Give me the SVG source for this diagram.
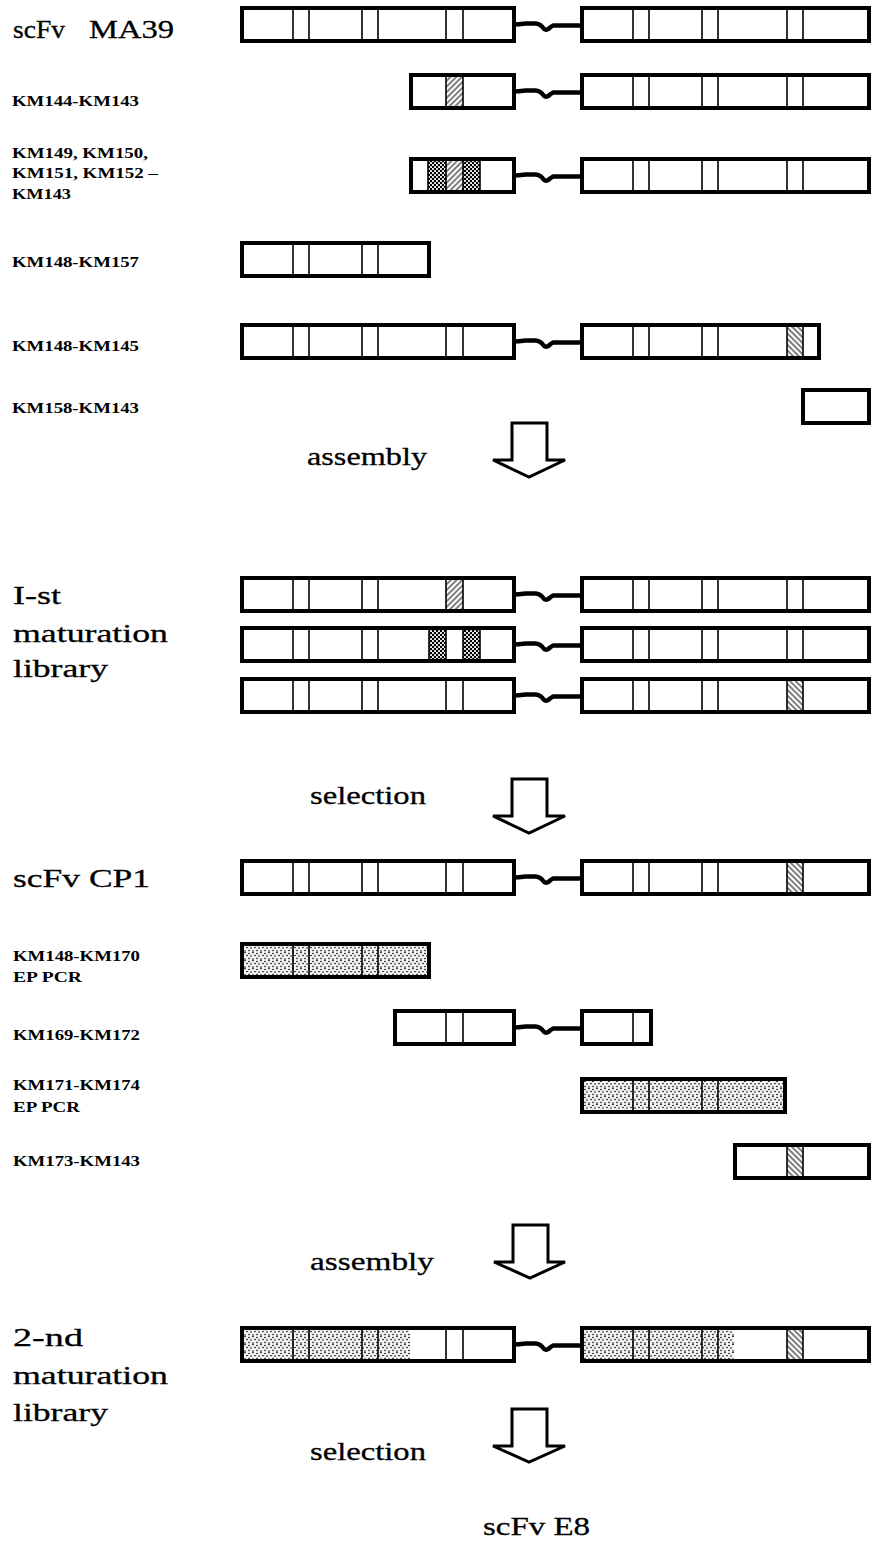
<svg xmlns="http://www.w3.org/2000/svg" width="878" height="1543" viewBox="0 0 878 1543">
<defs>
<style>
.box{fill:none;stroke:#000;stroke-width:4}
.dv{fill:none;stroke:#000;stroke-width:1.6}
.lbl{font-family:"Liberation Serif",serif;font-weight:bold;font-size:15px;fill:#000}
.big{font-family:"Liberation Serif",serif;font-size:26px;fill:#000;stroke:#000;stroke-width:0.3}
.arr{fill:#fff;stroke:#000;stroke-width:3;stroke-linejoin:miter}
.hf{fill:url(#hatchF)}
.hb{fill:url(#hatchB)}
.ck{fill:url(#check)}
.dt{fill:url(#dots)}
</style>
<pattern id="hatchF" patternUnits="userSpaceOnUse" width="4" height="4" patternTransform="rotate(45)">
<rect width="4" height="4" fill="#fff"/><line x1="1" y1="0" x2="1" y2="4" stroke="#000" stroke-width="1"/>
</pattern>
<pattern id="hatchB" patternUnits="userSpaceOnUse" width="4" height="4" patternTransform="rotate(-45)">
<rect width="4" height="4" fill="#fff"/><line x1="1" y1="0" x2="1" y2="4" stroke="#000" stroke-width="1"/>
</pattern>
<pattern id="check" patternUnits="userSpaceOnUse" width="4" height="4">
<rect width="4" height="4" fill="#000"/><circle cx="1" cy="1" r="1.05" fill="#fff"/><circle cx="3" cy="3" r="1.05" fill="#fff"/>
</pattern>
<pattern id="dots" patternUnits="userSpaceOnUse" width="8" height="8">
<rect width="8" height="8" fill="#f4f4f4"/>
<circle cx="1" cy="1.5" r="0.8" fill="#000"/><circle cx="5" cy="0.5" r="0.8" fill="#000"/>
<circle cx="3" cy="4" r="0.8" fill="#000"/><circle cx="7" cy="3.5" r="0.8" fill="#000"/>
<circle cx="1" cy="6.5" r="0.8" fill="#000"/><circle cx="5" cy="7" r="0.8" fill="#000"/>
</pattern>
<path id="lk" fill="none" stroke="#000" stroke-width="4.5" stroke-linejoin="round" d="M0,0 L10,-1 L19,-1 Q23,-1 26,2 Q30,8 34,3 L37,1 L47,1 L64,1"/>
</defs>
<rect width="878" height="1543" fill="#fff"/>

<g id="labels">
<text class="big" x="13" y="38"><tspan textLength="52" lengthAdjust="spacingAndGlyphs">scFv</tspan> <tspan x="89" textLength="85" lengthAdjust="spacingAndGlyphs">MA39</tspan></text>
<text class="lbl" x="12" y="106" textLength="127" lengthAdjust="spacingAndGlyphs">KM144-KM143</text>
<text class="lbl" x="12" y="158" textLength="136" lengthAdjust="spacingAndGlyphs">KM149, KM150,</text>
<text class="lbl" x="12" y="178" textLength="146" lengthAdjust="spacingAndGlyphs">KM151, KM152 –</text>
<text class="lbl" x="12" y="199" textLength="59" lengthAdjust="spacingAndGlyphs">KM143</text>
<text class="lbl" x="12" y="267" textLength="127" lengthAdjust="spacingAndGlyphs">KM148-KM157</text>
<text class="lbl" x="12" y="351" textLength="127" lengthAdjust="spacingAndGlyphs">KM148-KM145</text>
<text class="lbl" x="12" y="413" textLength="127" lengthAdjust="spacingAndGlyphs">KM158-KM143</text>
<text class="big" x="307" y="465" textLength="120" lengthAdjust="spacingAndGlyphs">assembly</text>
<text class="big" x="13" y="604" textLength="48" lengthAdjust="spacingAndGlyphs">I-st</text>
<text class="big" x="13" y="642" textLength="155" lengthAdjust="spacingAndGlyphs">maturation</text>
<text class="big" x="13" y="677" textLength="95" lengthAdjust="spacingAndGlyphs">library</text>
<text class="big" x="310" y="804" textLength="116" lengthAdjust="spacingAndGlyphs">selection</text>
<text class="big" x="13" y="887" textLength="137" lengthAdjust="spacingAndGlyphs">scFv CP1</text>
<text class="lbl" x="13" y="961" textLength="127" lengthAdjust="spacingAndGlyphs">KM148-KM170</text>
<text class="lbl" x="13" y="982" textLength="69" lengthAdjust="spacingAndGlyphs">EP PCR</text>
<text class="lbl" x="13" y="1040" textLength="127" lengthAdjust="spacingAndGlyphs">KM169-KM172</text>
<text class="lbl" x="13" y="1090" textLength="127" lengthAdjust="spacingAndGlyphs">KM171-KM174</text>
<text class="lbl" x="13" y="1112" textLength="67" lengthAdjust="spacingAndGlyphs">EP PCR</text>
<text class="lbl" x="13" y="1166" textLength="127" lengthAdjust="spacingAndGlyphs">KM173-KM143</text>
<text class="big" x="310" y="1270" textLength="124" lengthAdjust="spacingAndGlyphs">assembly</text>
<text class="big" x="13" y="1346" textLength="70" lengthAdjust="spacingAndGlyphs">2-nd</text>
<text class="big" x="13" y="1384" textLength="155" lengthAdjust="spacingAndGlyphs">maturation</text>
<text class="big" x="13" y="1421" textLength="95" lengthAdjust="spacingAndGlyphs">library</text>
<text class="big" x="310" y="1460" textLength="116" lengthAdjust="spacingAndGlyphs">selection</text>
<text class="big" x="483" y="1535" textLength="107" lengthAdjust="spacingAndGlyphs">scFv E8</text>
</g>

<g id="n-ma39">
<path class="dv" d="M293,6V43M309,6V43M362,6V43M378,6V43M446,6V43M463,6V43M633,6V43M649,6V43M702,6V43M718,6V43M787,6V43M803,6V43"/>
<use href="#lk" x="516" y="24.5"/>
<rect class="box" x="242" y="8" width="272" height="33"/>
<rect class="box" x="582" y="8" width="287" height="33"/>
</g>

<g id="n-km144">
<rect class="hf" x="446" y="75" width="17" height="33"/>
<path class="dv" d="M446,73V110M463,73V110M633,73V110M649,73V110M702,73V110M718,73V110M787,73V110M803,73V110"/>
<use href="#lk" x="516" y="91.5"/>
<rect class="box" x="411" y="75" width="103" height="33"/>
<rect class="box" x="582" y="75" width="287" height="33"/>
</g>

<g id="n-km149">
<rect class="ck" x="428" y="159" width="18" height="33"/>
<rect class="hf" x="446" y="159" width="17" height="33"/>
<rect class="ck" x="463" y="159" width="17" height="33"/>
<path class="dv" d="M428,157V194M446,157V194M463,157V194M480,157V194M633,157V194M649,157V194M702,157V194M718,157V194M787,157V194M803,157V194"/>
<use href="#lk" x="516" y="175.5"/>
<rect class="box" x="411" y="159" width="103" height="33"/>
<rect class="box" x="582" y="159" width="287" height="33"/>
</g>

<g id="n-km148-157">
<path class="dv" d="M293,241V278M309,241V278M362,241V278M378,241V278"/>
<rect class="box" x="242" y="243" width="187" height="33"/>
</g>

<g id="n-km148-145">
<rect class="hb" x="787" y="325" width="16" height="33"/>
<path class="dv" d="M293,323V360M309,323V360M362,323V360M378,323V360M446,323V360M463,323V360M633,323V360M649,323V360M702,323V360M718,323V360M787,323V360M803,323V360"/>
<use href="#lk" x="516" y="341.5"/>
<rect class="box" x="242" y="325" width="272" height="33"/>
<rect class="box" x="582" y="325" width="237" height="33"/>
</g>

<g id="n-km158">
<rect class="box" x="803" y="390" width="66" height="33"/>
</g>

<g id="n-lib1-a">
<rect class="hf" x="446" y="578" width="17" height="33"/>
<path class="dv" d="M293,576V613M309,576V613M362,576V613M378,576V613M446,576V613M463,576V613M633,576V613M649,576V613M702,576V613M718,576V613M787,576V613M803,576V613"/>
<use href="#lk" x="516" y="594.5"/>
<rect class="box" x="242" y="578" width="272" height="33"/>
<rect class="box" x="582" y="578" width="287" height="33"/>
</g>
<g id="n-lib1-b">
<rect class="ck" x="429" y="628" width="17" height="33"/>
<rect class="ck" x="463" y="628" width="17" height="33"/>
<path class="dv" d="M293,626V663M309,626V663M362,626V663M378,626V663M429,626V663M446,626V663M463,626V663M480,626V663M633,626V663M649,626V663M702,626V663M718,626V663M787,626V663M803,626V663"/>
<use href="#lk" x="516" y="644.5"/>
<rect class="box" x="242" y="628" width="272" height="33"/>
<rect class="box" x="582" y="628" width="287" height="33"/>
</g>
<g id="n-lib1-c">
<rect class="hb" x="787" y="679" width="16" height="33"/>
<path class="dv" d="M293,677V714M309,677V714M362,677V714M378,677V714M446,677V714M463,677V714M633,677V714M649,677V714M702,677V714M718,677V714M787,677V714M803,677V714"/>
<use href="#lk" x="516" y="695.5"/>
<rect class="box" x="242" y="679" width="272" height="33"/>
<rect class="box" x="582" y="679" width="287" height="33"/>
</g>

<g id="n-cp1">
<rect class="hb" x="787" y="861" width="16" height="33"/>
<path class="dv" d="M293,859V896M309,859V896M362,859V896M378,859V896M446,859V896M463,859V896M633,859V896M649,859V896M702,859V896M718,859V896M787,859V896M803,859V896"/>
<use href="#lk" x="516" y="877.5"/>
<rect class="box" x="242" y="861" width="272" height="33"/>
<rect class="box" x="582" y="861" width="287" height="33"/>
</g>

<g id="n-km148-170">
<rect class="dt" x="242" y="944" width="187" height="33"/>
<path class="dv" d="M293,942V979M309,942V979M362,942V979M378,942V979"/>
<rect class="box" x="242" y="944" width="187" height="33"/>
</g>

<g id="n-km169">
<path class="dv" d="M446,1009V1046M463,1009V1046M633,1009V1046"/>
<use href="#lk" x="516" y="1027.5"/>
<rect class="box" x="395" y="1011" width="119" height="33"/>
<rect class="box" x="582" y="1011" width="69" height="33"/>
</g>

<g id="n-km171">
<rect class="dt" x="582" y="1079" width="203" height="33"/>
<path class="dv" d="M633,1077V1114M649,1077V1114M702,1077V1114M718,1077V1114"/>
<rect class="box" x="582" y="1079" width="203" height="33"/>
</g>

<g id="n-km173">
<rect class="hb" x="787" y="1145" width="16" height="33"/>
<path class="dv" d="M787,1143V1180M803,1143V1180"/>
<rect class="box" x="735" y="1145" width="134" height="33"/>
</g>

<g id="n-lib2">
<rect class="dt" x="242" y="1328" width="168" height="33"/>
<rect class="dt" x="582" y="1328" width="152" height="33"/>
<rect class="hb" x="787" y="1328" width="16" height="33"/>
<path class="dv" d="M293,1326V1363M309,1326V1363M362,1326V1363M378,1326V1363M446,1326V1363M463,1326V1363M633,1326V1363M649,1326V1363M702,1326V1363M718,1326V1363M787,1326V1363M803,1326V1363"/>
<use href="#lk" x="516" y="1344.5"/>
<rect class="box" x="242" y="1328" width="272" height="33"/>
<rect class="box" x="582" y="1328" width="287" height="33"/>
</g>

<g id="connectors">
<polygon class="arr" points="512,423 547,423 547,460 565,460 529,477 493,460 512,460"/>
<polygon class="arr" points="512,779 547,779 547,816 565,816 529,833 493,816 512,816"/>
<polygon class="arr" points="513,1225 548,1225 548,1262 565,1262 530,1278 494,1262 513,1262"/>
<polygon class="arr" points="512,1409 547,1409 547,1446 565,1446 529,1462 493,1446 512,1446"/>
</g>
</svg>
